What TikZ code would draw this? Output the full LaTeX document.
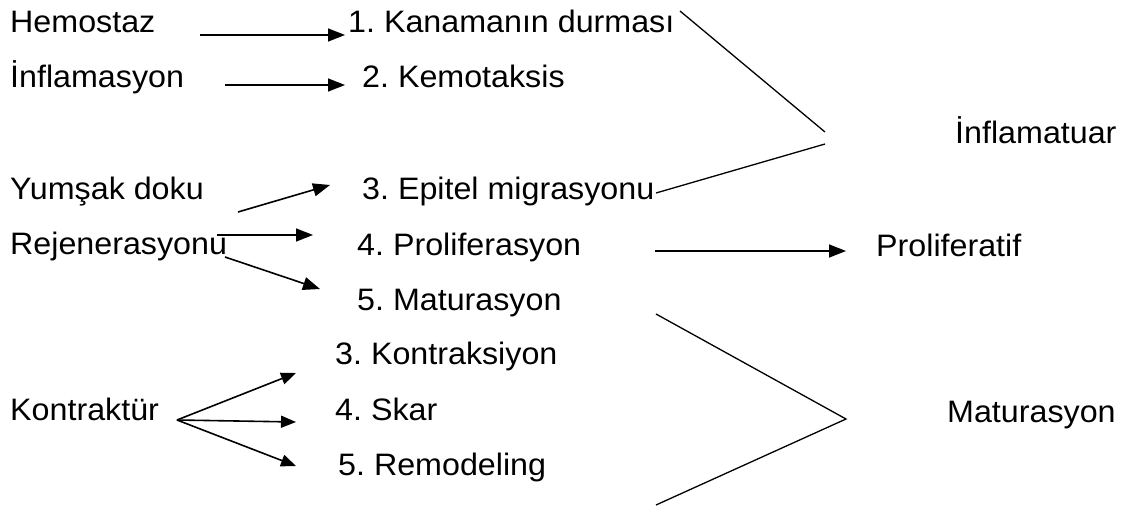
\documentclass[tikz,border=0pt]{standalone}
\usepackage{fontspec}
\setmainfont{Liberation Sans}
\usetikzlibrary{arrows.meta}
\frenchspacing
\newcommand\wtxt[1]{\scalebox{1.04}[1]{#1}}
\begin{document}
\begin{tikzpicture}[x=1pt,y=-1pt,
  lbl/.style={inner sep=0pt, anchor=base west, font=\fontsize{31}{37}\selectfont},
  arr/.style={line width=1.6pt, -{Triangle[length=17pt,width=13pt]}},
  sarr/.style={line width=1.6pt, -{Triangle[length=15pt,width=12pt]}},
  brk/.style={line width=1.3pt}]
\useasboundingbox (0,0) rectangle (1130,508);
% left column
\node[lbl] (hemo) at (10,33) {\wtxt{Hemostaz}};
\node[lbl] (infl) at (10,88) {\wtxt{İnflamasyon}};
\node[lbl] (yum) at (10,200) {\wtxt{Yumşak doku}};
\node[lbl] (rej) at (10,254) {\wtxt{Rejenerasyonu}};
\node[lbl] (kon) at (10,420) {\wtxt{Kontraktür}};
% middle column
\node[lbl] (kan) at (348,33) {\wtxt{1. Kanamanın durması}};
\node[lbl] (kem) at (362,88) {\wtxt{2. Kemotaksis}};
\node[lbl] (epi) at (362,200) {\wtxt{3. Epitel migrasyonu}};
\node[lbl] (pro) at (357,255) {\wtxt{4. Proliferasyon}};
\node[lbl] (mat) at (357,310) {\wtxt{5. Maturasyon}};
\node[lbl] (ktr) at (335,364) {\wtxt{3. Kontraksiyon}};
\node[lbl] (ska) at (335,420) {\wtxt{4. Skar}};
\node[lbl] (rem) at (338,475) {\wtxt{5. Remodeling}};
% right column
\node[lbl] (inft) at (955,143) {\wtxt{İnflamatuar}};
\node[lbl] (prf) at (876,256) {\wtxt{Proliferatif}};
\node[lbl] (mtr) at (947,422) {\wtxt{Maturasyon}};
% arrow end points
\coordinate (h1) at (200,35); \coordinate (h2) at (345,35);
\coordinate (i1) at (225,85); \coordinate (i2) at (345,85);
\coordinate (y1) at (238,212); \coordinate (y2) at (330,185);
\coordinate (r1) at (217,235); \coordinate (r2) at (313,235);
\coordinate (r3) at (225,257); \coordinate (r4) at (320,289);
\coordinate (k0) at (177,420);
\coordinate (k1) at (296,373); \coordinate (k2) at (296,422); \coordinate (k3) at (296,466);
\coordinate (p1) at (655,251); \coordinate (p2) at (846,251);
% bracket points
\coordinate (b1) at (680,11); \coordinate (b2) at (825,132);
\coordinate (b3) at (825,144); \coordinate (b4) at (656,193);
\coordinate (m1) at (656,314); \coordinate (m2) at (846,419); \coordinate (m3) at (656,505);
% arrows
\draw[arr] (h1) -- (h2);
\draw[arr] (i1) -- (i2);
\draw[arr] (y1) -- (y2);
\draw[arr] (r1) -- (r2);
\draw[arr] (r3) -- (r4);
\draw[sarr] (k0) -- (k1);
\draw[sarr] (k0) -- (k2);
\draw[sarr] (k0) -- (k3);
\draw[arr] (p1) -- (p2);
% brackets
\draw[brk] (b1) -- (b2);
\draw[brk] (b4) -- (b3);
\draw[brk] (m1) -- (m2) -- (m3);
\end{tikzpicture}
\end{document}
